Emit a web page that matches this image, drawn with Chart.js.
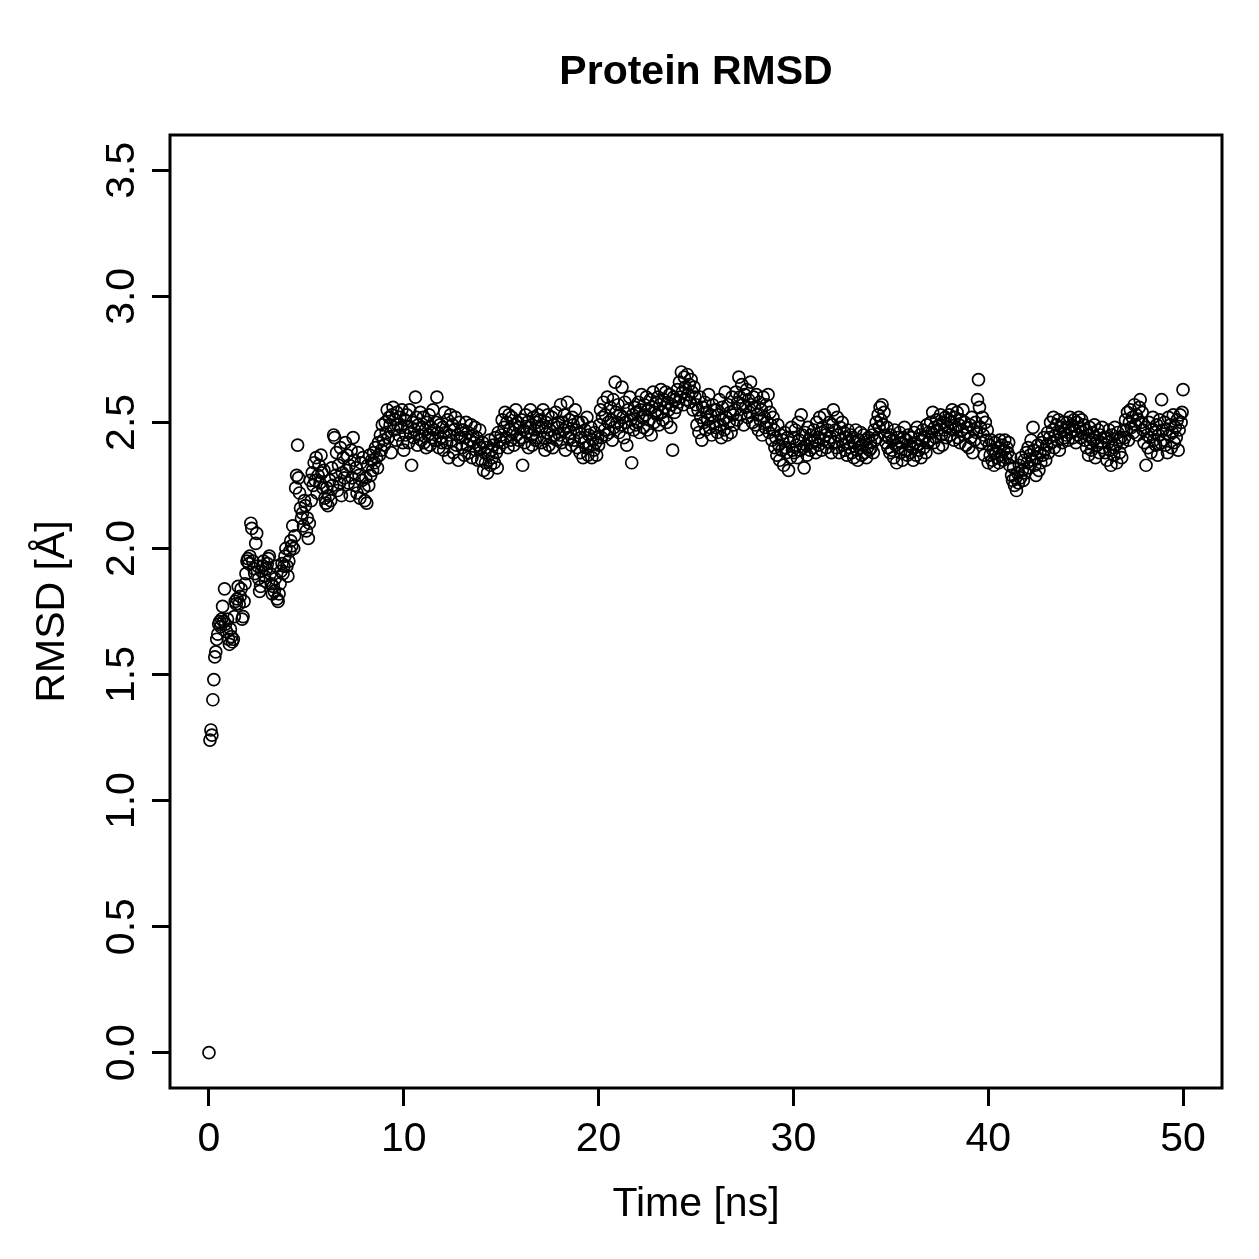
<!DOCTYPE html>
<html>
<head>
<meta charset="utf-8">
<title>Protein RMSD</title>
<script src="https://cdn.jsdelivr.net/npm/chart.js@4.4.1/dist/chart.umd.min.js"></script>
<style>
  html, body { margin: 0; padding: 0; background: #fff; }
</style>
</head>
<body>
<canvas id="rmsdPlot" width="1259" height="1259"></canvas>
<script>
// protein RMSD over the run, one frame every 0.05 ns

const timeStep = 0.05
const rmsd = [
  0.00,1.24,1.28,1.26,1.40,1.48,1.57,1.59,1.64,1.66,1.70,1.71,1.69,1.72,1.77,1.71,1.84,1.70,1.67,1.72,
  1.64,1.62,1.68,1.65,1.63,1.64,1.73,1.79,1.78,1.80,1.85,1.78,1.81,1.84,1.72,1.73,1.79,1.86,1.90,1.95,
  1.96,1.94,1.97,2.10,2.08,1.95,1.92,1.90,2.02,2.06,1.93,1.88,1.83,1.85,1.91,1.93,1.95,1.89,1.87,1.92,
  1.94,1.96,1.97,1.90,1.86,1.82,1.85,1.83,1.88,1.93,1.80,1.79,1.82,1.86,1.91,1.94,1.90,1.93,1.97,2.00,
  1.93,1.89,1.95,1.99,2.03,2.01,2.09,2.00,2.05,2.24,2.29,2.41,2.28,2.22,2.16,2.12,2.14,2.09,2.19,2.17,
  2.07,2.12,2.04,2.10,2.27,2.19,2.30,2.25,2.34,2.27,2.36,2.22,2.29,2.33,2.26,2.37,2.30,2.24,2.31,2.20,
  2.18,2.24,2.17,2.21,2.27,2.19,2.32,2.25,2.45,2.44,2.29,2.38,2.23,2.33,2.26,2.40,2.21,2.30,2.36,2.28,
  2.42,2.31,2.37,2.26,2.33,2.21,2.39,2.28,2.44,2.35,2.25,2.32,2.22,2.38,2.29,2.20,2.34,2.27,2.36,2.24,
  2.19,2.28,2.18,2.33,2.25,2.37,2.29,2.35,2.31,2.38,2.34,2.40,2.36,2.32,2.42,2.37,2.45,2.39,2.49,2.43,
  2.41,2.50,2.46,2.55,2.44,2.52,2.49,2.38,2.53,2.56,2.47,2.51,2.43,2.54,2.49,2.45,2.52,2.48,2.55,2.42,
  2.39,2.51,2.45,2.53,2.48,2.42,2.55,2.46,2.33,2.50,2.44,2.47,2.60,2.52,2.41,2.49,2.45,2.54,2.43,2.48,
  2.52,2.42,2.47,2.40,2.50,2.45,2.53,2.41,2.48,2.44,2.55,2.47,2.43,2.50,2.60,2.46,2.40,2.49,2.44,2.42,
  2.48,2.39,2.54,2.46,2.42,2.51,2.36,2.45,2.53,2.43,2.49,2.38,2.47,2.52,2.41,2.45,2.35,2.50,2.44,2.47,
  2.40,2.47,2.37,2.44,2.50,2.41,2.46,2.38,2.43,2.49,2.36,2.45,2.42,2.48,2.39,2.44,2.35,2.41,2.47,2.40,
  2.35,2.42,2.31,2.38,2.34,2.40,2.30,2.37,2.43,2.33,2.39,2.36,2.41,2.34,2.44,2.38,2.32,2.46,2.40,2.43,
  2.45,2.51,2.42,2.48,2.54,2.44,2.50,2.40,2.53,2.47,2.43,2.52,2.46,2.41,2.49,2.55,2.45,2.50,2.43,2.48,
  2.44,2.51,2.33,2.47,2.42,2.53,2.46,2.50,2.40,2.48,2.55,2.45,2.41,2.52,2.47,2.43,2.50,2.44,2.53,2.48,
  2.51,2.42,2.48,2.55,2.44,2.39,2.50,2.46,2.53,2.41,2.47,2.44,2.52,2.40,2.49,2.45,2.54,2.43,2.48,2.50,
  2.45,2.57,2.42,2.50,2.47,2.53,2.39,2.48,2.58,2.44,2.51,2.46,2.41,2.52,2.49,2.43,2.55,2.47,2.40,2.50,
  2.46,2.38,2.44,2.50,2.36,2.42,2.47,2.40,2.52,2.37,2.45,2.41,2.48,2.36,2.43,2.39,2.46,2.42,2.37,2.44,
  2.41,2.49,2.55,2.44,2.52,2.58,2.47,2.53,2.45,2.60,2.50,2.46,2.56,2.51,2.43,2.59,2.48,2.66,2.54,2.50,
  2.57,2.46,2.53,2.49,2.64,2.52,2.44,2.58,2.50,2.41,2.55,2.48,2.60,2.51,2.34,2.53,2.47,2.56,2.49,2.54,
  2.50,2.58,2.46,2.55,2.61,2.52,2.48,2.57,2.53,2.60,2.47,2.55,2.51,2.59,2.45,2.56,2.62,2.50,2.54,2.58,
  2.53,2.60,2.49,2.57,2.63,2.54,2.51,2.59,2.56,2.62,2.50,2.58,2.55,2.61,2.48,2.57,2.39,2.60,2.54,2.59,
  2.56,2.63,2.58,2.66,2.60,2.70,2.62,2.57,2.68,2.64,2.59,2.69,2.61,2.65,2.58,2.67,2.62,2.55,2.64,2.60,
  2.57,2.49,2.55,2.46,2.60,2.52,2.43,2.56,2.50,2.58,2.47,2.54,2.51,2.61,2.48,2.53,2.45,2.57,2.50,2.55,
  2.48,2.55,2.46,2.53,2.59,2.49,2.44,2.56,2.51,2.47,2.62,2.52,2.45,2.57,2.50,2.54,2.46,2.60,2.53,2.49,
  2.55,2.62,2.51,2.58,2.68,2.60,2.53,2.65,2.57,2.49,2.61,2.56,2.63,2.52,2.59,2.54,2.66,2.57,2.50,2.60,
  2.56,2.49,2.61,2.53,2.47,2.58,2.51,2.55,2.45,2.60,2.52,2.48,2.57,2.50,2.61,2.46,2.54,2.49,2.43,2.52,
  2.47,2.40,2.44,2.37,2.49,2.41,2.35,2.45,2.39,2.43,2.33,2.46,2.40,2.38,2.44,2.31,2.42,2.36,2.48,2.39,
  2.44,2.38,2.47,2.41,2.36,2.50,2.43,2.39,2.53,2.45,2.40,2.32,2.46,2.41,2.37,2.48,2.43,2.39,2.45,2.42,
  2.40,2.47,2.43,2.38,2.50,2.44,2.41,2.52,2.46,2.39,2.48,2.43,2.53,2.45,2.40,2.47,2.42,2.50,2.44,2.38,
  2.49,2.55,2.42,2.47,2.40,2.52,2.45,2.38,2.48,2.43,2.50,2.41,2.46,2.39,2.44,2.37,2.47,2.42,2.40,2.45,
  2.38,2.44,2.36,2.42,2.47,2.39,2.35,2.43,2.40,2.46,2.37,2.41,2.45,2.38,2.43,2.36,2.40,2.44,2.39,2.42,
  2.40,2.45,2.38,2.47,2.43,2.50,2.44,2.53,2.48,2.56,2.51,2.57,2.49,2.54,2.45,2.42,2.48,2.40,2.44,2.38,
  2.45,2.39,2.43,2.36,2.47,2.41,2.34,2.44,2.40,2.46,2.38,2.42,2.35,2.44,2.48,2.39,2.43,2.37,2.45,2.41,
  2.38,2.44,2.40,2.35,2.46,2.42,2.37,2.48,2.41,2.39,2.45,2.36,2.43,2.47,2.40,2.44,2.38,2.49,2.42,2.46,
  2.43,2.50,2.46,2.54,2.42,2.48,2.44,2.51,2.47,2.40,2.49,2.53,2.45,2.41,2.50,2.47,2.52,2.44,2.48,2.51,
  2.53,2.45,2.50,2.55,2.47,2.43,2.52,2.48,2.54,2.44,2.49,2.42,2.51,2.47,2.55,2.45,2.50,2.41,2.48,2.46,
  2.40,2.49,2.44,2.52,2.38,2.47,2.43,2.50,2.46,2.59,2.67,2.56,2.48,2.42,2.52,2.45,2.37,2.50,2.43,2.47,
  2.34,2.41,2.37,2.43,2.35,2.39,2.33,2.42,2.38,2.36,2.40,2.34,2.43,2.37,2.41,2.35,2.39,2.43,2.36,2.40,
  2.38,2.42,2.33,2.36,2.29,2.27,2.32,2.25,2.28,2.23,2.30,2.26,2.33,2.28,2.36,2.31,2.27,2.35,2.30,2.38,
  2.34,2.40,2.32,2.37,2.43,2.35,2.48,2.39,2.33,2.29,2.36,2.41,2.31,2.38,2.34,2.42,2.37,2.44,2.39,2.35,
  2.41,2.46,2.38,2.44,2.50,2.42,2.47,2.52,2.40,2.45,2.49,2.43,2.51,2.39,2.46,2.48,2.42,2.50,2.44,2.47,
  2.45,2.50,2.43,2.48,2.52,2.46,2.49,2.44,2.51,2.47,2.42,2.50,2.45,2.52,2.48,2.44,2.51,2.46,2.49,2.43,
  2.47,2.40,2.45,2.37,2.48,2.42,2.39,2.46,2.43,2.49,2.36,2.44,2.41,2.47,2.38,2.45,2.42,2.48,2.40,2.44,
  2.38,2.44,2.35,2.42,2.47,2.39,2.33,2.45,2.40,2.37,2.48,2.41,2.34,2.46,2.43,2.38,2.44,2.36,2.42,2.47,
  2.44,2.51,2.47,2.54,2.43,2.50,2.55,2.48,2.52,2.46,2.57,2.49,2.53,2.45,2.51,2.56,2.59,2.50,2.54,2.47,
  2.42,2.48,2.33,2.45,2.40,2.50,2.44,2.38,2.47,2.52,2.43,2.46,2.41,2.49,2.37,2.45,2.51,2.42,2.59,2.47,
  2.43,2.50,2.41,2.47,2.38,2.52,2.45,2.49,2.40,2.46,2.53,2.42,2.48,2.44,2.51,2.39,2.47,2.53,2.50,2.54,
  2.63
]

const xTicks = [0, 10, 20, 30, 40, 50]
const yTicks = [0, 0.5, 1, 1.5, 2, 2.5, 3, 3.5]
const yTickLabels = ['0.0', '0.5', '1.0', '1.5', '2.0', '2.5', '3.0', '3.5']
const titleText = 'Protein RMSD'
const xTitle = 'Time [ns]'
const yTitle = 'RMSD [Å]'

const FONT = '"Liberation Sans", Arial, Helvetica, sans-serif'

const points = rmsd.map((v, i) => ({ x: +(i * timeStep).toFixed(2), y: v }))

function putText(ctx, text, x, y, angle) {
  ctx.save()
  ctx.translate(x, y)
  if (angle) ctx.rotate(angle)
  ctx.fillText(text, 0, 0)
  ctx.restore()
}

// R-style frame, axis labels and titles drawn on top
const baseGraphics = {
  id: 'baseGraphics',
  afterDraw(chart) {
    const ctx = chart.ctx
    const a = chart.chartArea
    const xs = chart.scales.x
    const ys = chart.scales.y
    ctx.save()
    ctx.strokeStyle = '#000'
    ctx.lineWidth = 3
    ctx.strokeRect(a.left, a.top, a.right - a.left, a.bottom - a.top)

    ctx.fillStyle = '#000'
    ctx.textAlign = 'center'
    ctx.textBaseline = 'alphabetic'
    ctx.font = 'bold 41px ' + FONT
    putText(ctx, titleText, (a.left + a.right) / 2, 84)

    ctx.font = '41px ' + FONT
    xTicks.forEach(v => putText(ctx, String(v), xs.getPixelForValue(v), 1151))
    putText(ctx, xTitle, (a.left + a.right) / 2, 1216)

    yTicks.forEach((v, i) => putText(ctx, yTickLabels[i], 134, ys.getPixelForValue(v), -Math.PI / 2))
    putText(ctx, yTitle, 64, (a.top + a.bottom) / 2, -Math.PI / 2)
    ctx.restore()
  }
}

const tickGrid = {
  drawOnChartArea: false,
  drawTicks: true,
  tickLength: 18,
  tickWidth: 3,
  tickColor: '#000'
}

const rctx = document.getElementById('rmsdPlot').getContext('2d')
const rmsdPlot = new Chart(rctx, {
  type: 'scatter',
  data: {
    datasets: [{
      data: points,
      pointStyle: 'circle',
      pointRadius: 6,
      pointBorderWidth: 1.7,
      pointBackgroundColor: 'rgba(0,0,0,0)',
      pointBorderColor: '#000',
      showLine: false
    }]
  },
  options: {
    responsive: false,
    animation: false,
    events: [],
    layout: { padding: { left: 0, right: 37, top: 135, bottom: 0 } },
    plugins: {
      legend: { display: false },
      title: { display: false },
      tooltip: { enabled: false }
    },
    scales: {
      x: {
        type: 'linear',
        min: -2,
        max: 52,
        afterBuildTicks: s => { s.ticks = xTicks.map(v => ({ value: v })) },
        afterFit: s => { s.height = 171 },
        grid: tickGrid,
        border: { display: false },
        ticks: { display: false }
      },
      y: {
        type: 'linear',
        min: -0.14,
        max: 3.64,
        afterBuildTicks: s => { s.ticks = yTicks.map(v => ({ value: v })) },
        afterFit: s => { s.width = 170 },
        grid: tickGrid,
        border: { display: false },
        ticks: { display: false }
      }
    }
  },
  plugins: [baseGraphics]
});
</script>
</body>
</html>
